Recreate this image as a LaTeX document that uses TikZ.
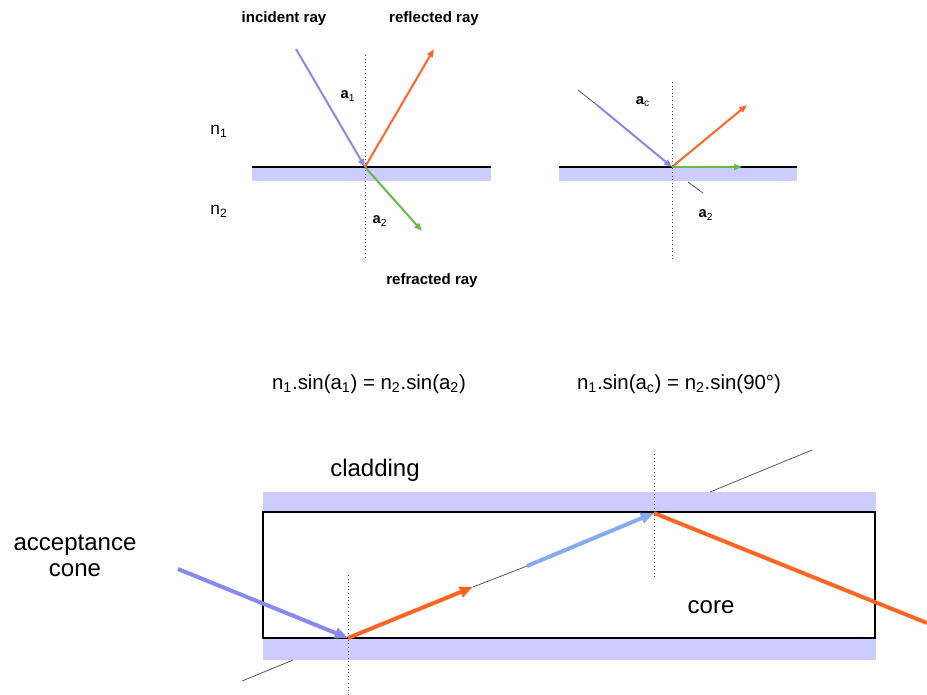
\documentclass[tikz,border=0pt]{standalone}
\usepackage{fontspec}
\setmainfont{Liberation Sans}
\usepackage{xcolor}
\definecolor{incidentblue}{HTML}{8888EE}
\definecolor{paleblue}{HTML}{88AAEE}
\definecolor{reflectorange}{HTML}{FF6622}
\definecolor{refractgreen}{HTML}{66BB44}
\definecolor{claddingblue}{HTML}{CCCCFF}
\usepackage{tikz}
\usetikzlibrary{arrows.meta}

\begin{document}
\begin{tikzpicture}[
        x=0.75pt, y=-0.75pt,
        band/.style={fill=claddingblue, draw=none},
        surface/.style={draw=black, line width=1.5pt},
        normal/.style={draw=gray!60!black, dotted, line width=0.7pt},
        guide/.style={draw=gray!70!black, line width=0.6pt},
        ray/.style={line width=1.5pt, -{Triangle[length=6pt, width=4.5pt]}},
        fibreray/.style={line width=3pt, -{Triangle[length=10pt, width=8pt]}},
        raylabel/.style={font=\bfseries\fontsize{11.3}{12}\selectfont, inner sep=0pt},
        anglelabel/.style={font=\fontsize{11}{12}\selectfont, inner sep=0pt},
        medium/.style={font=\fontsize{13}{14}\selectfont, inner sep=0pt},
        formula/.style={font=\fontsize{15.3}{16}\selectfont, inner sep=0pt},
        partlabel/.style={font=\fontsize{18}{19}\selectfont, inner sep=0pt, align=center},
    ]
    \useasboundingbox (0,0) rectangle (927,694);

    % === Reflection and refraction ===
    \fill[band] (252,167) rectangle (491,181);
    \draw[surface] (252,167) -- (491,167);
    \coordinate (topA) at (365,55);
    \coordinate (botA) at (365,259);
    \draw[normal] (topA) -- (botA);

    \coordinate (hitA) at (365,167);
    \coordinate (srcA) at (296,49);
    \coordinate (reflA) at (434,49);
    \coordinate (refrA) at (422,231);
    \draw[ray, incidentblue] (srcA) -- (hitA);
    \draw[ray, reflectorange] (hitA) -- (reflA);
    \draw[ray, refractgreen] (hitA) -- (refrA);

    \node[raylabel] (incident) at (284,19) {incident ray};
    \node[raylabel] (reflected) at (434,19) {reflected ray};
    \node[raylabel] (refracted) at (432,281) {refracted ray};
    \node[anglelabel] (aone) at (348,96) {\textbf{a}\textsubscript{1}};
    \node[anglelabel] (atwo) at (380,221) {\textbf{a}\textsubscript{2}};
    \node[medium] (none) at (219,131) {n\textsubscript{1}};
    \node[medium] (ntwo) at (219,211) {n\textsubscript{2}};

    % === Critical angle ===
    \fill[band] (559,167) rectangle (797,181);
    \draw[surface] (559,167) -- (797,167);
    \coordinate (topB) at (672,82);
    \coordinate (botB) at (672,260);
    \draw[normal] (topB) -- (botB);

    \coordinate (hitB) at (672,167);
    \coordinate (tailB) at (578,90);
    \coordinate (srcB) at (597,105);
    \coordinate (reflB) at (747,105);
    \coordinate (grazeB) at (742,167);
    \coordinate (underB) at (688,182);
    \coordinate (underendB) at (703,193);
    \draw[guide] (tailB) -- (srcB);
    \draw[guide] (underB) -- (underendB);
    \draw[ray, incidentblue] (srcB) -- (hitB);
    \draw[ray, reflectorange] (hitB) -- (reflB);
    \draw[ray, refractgreen] (hitB) -- (grazeB);

    \node[anglelabel] (acrit) at (643,102) {\textbf{a}\textsubscript{c}};
    \node[anglelabel] (agraze) at (706,215) {\textbf{a}\textsubscript{2}};

    % === Snell's law ===
    \node[formula] (snell) at (369,384)
        {n\textsubscript{1}.sin(a\textsubscript{1}) = n\textsubscript{2}.sin(a\textsubscript{2})};
    \node[formula] (critical) at (679,384)
        {n\textsubscript{1}.sin(a\textsubscript{c}) = n\textsubscript{2}.sin(90°)};

    % === Optical fibre ===
    \fill[band] (263,492) rectangle (876,512);
    \fill[band] (263,638) rectangle (876,660);
    \draw[line width=1.5pt] (263,512) rectangle (875,638);

    \node[partlabel] (cladding) at (375,470) {cladding};
    \node[partlabel] (core) at (711,607) {core};
    \node[partlabel] (cone) at (75,556) {acceptance\\[1pt]cone};

    \coordinate (topC) at (348,575);
    \coordinate (botC) at (348,694);
    \coordinate (topD) at (654,454);
    \coordinate (botD) at (654,577);
    \draw[normal] (topC) -- (botC);
    \draw[normal] (topD) -- (botD);

    \coordinate (entry) at (178,569);
    \coordinate (hitC) at (348,638);
    \coordinate (headC) at (473,587);
    \coordinate (gapC) at (527,566);
    \coordinate (hitD) at (654,513);
    \coordinate (exitD) at (927,623);
    \coordinate (backC) at (242,681);
    \coordinate (backendC) at (293,660);
    \coordinate (leakD) at (710,492);
    \coordinate (leakendD) at (812,450);

    \draw[guide] (backC) -- (backendC);
    \draw[guide] (headC) -- (gapC);
    \draw[guide] (leakD) -- (leakendD);
    \draw[fibreray, incidentblue] (entry) -- (hitC);
    \draw[fibreray, reflectorange] (hitC) -- (headC);
    \draw[fibreray, paleblue] (gapC) -- (hitD);
    \draw[line width=3pt, reflectorange] (hitD) -- (exitD);

\end{tikzpicture}
\end{document}
